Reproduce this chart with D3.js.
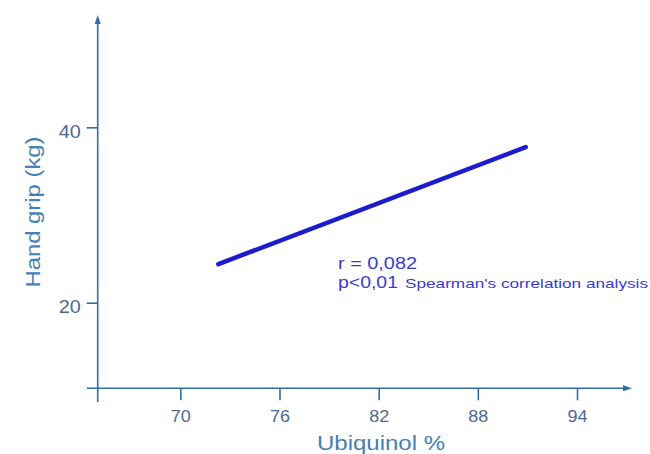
<!DOCTYPE html>
<html><head><meta charset="utf-8">
<script src="https://cdn.jsdelivr.net/npm/d3@7"></script>
<style>body{margin:0;background:#fff}svg{display:block}text{font-family:"Liberation Sans",Arial,sans-serif}</style>
</head><body><svg id="c" width="650" height="454"></svg>
<script>
const xTicks = [70, 76, 82, 88, 94];
const yTicks = [20, 40];
const lineX = [72.3, 90.9];
const lineY = [24.4, 37.75];
const statLines = ["r = 0,082", "p<0,01", "Spearman's correlation analysis"];
const xTitle = "Ubiquinol %";
const yTitle = "Hand grip (kg)";

const svg = d3.select("#c");
const x = d3.scaleLinear().domain([65, 94]).range([97.7, 577]);
const y = d3.scaleLinear().domain([20, 40]).range([302.7, 127.3]);
const axisCol = "#2f6ea6", tickTxt = "#4d6a90", titleCol = "#4580b6", lineCol = "#1c1ccc", txtCol = "#3a3ad0";

const x0 = x(65), y0 = y(10.24);
// axis lines
svg.append("line").attr("x1", 87).attr("x2", 627).attr("y1", y0).attr("y2", y0).attr("stroke", axisCol).attr("stroke-width", 1.6);
svg.append("line").attr("x1", x0).attr("x2", x0).attr("y1", 402).attr("y2", 20).attr("stroke", axisCol).attr("stroke-width", 1.6);
svg.append("path").attr("d", `M${x0-3},${24} L${x0},${15} L${x0+3},${24} Z`).attr("fill", axisCol);
svg.append("path").attr("d", `M${623},${y0-3} L${632},${y0} L${623},${y0+3} Z`).attr("fill", axisCol);

// x axis ticks
const xa = svg.append("g").attr("transform", `translate(0,${y0})`)
  .call(d3.axisBottom(x).tickValues(xTicks).tickSize(12).tickPadding(10));
xa.select(".domain").remove();
xa.selectAll(".tick line").attr("stroke", axisCol).attr("stroke-width", 1.6);
xa.selectAll(".tick text").attr("fill", tickTxt).attr("font-size", 17).attr("textLength", 20).attr("lengthAdjust", "spacingAndGlyphs")
  .attr("font-family", "Liberation Sans, Arial, sans-serif");

// y axis ticks
const ya = svg.append("g").attr("transform", `translate(${x0},0)`)
  .call(d3.axisLeft(y).tickValues(yTicks).tickSize(11).tickPadding(6));
ya.select(".domain").remove();
ya.selectAll(".tick line").attr("stroke", axisCol).attr("stroke-width", 1.6);
ya.selectAll(".tick text").attr("fill", tickTxt).attr("font-size", 18).attr("dy", "0.55em")
  .attr("textLength", 22).attr("lengthAdjust", "spacingAndGlyphs")
  .attr("font-family", "Liberation Sans, Arial, sans-serif");

// titles
svg.append("text").attr("x", 381).attr("y", 450).attr("text-anchor", "middle")
  .attr("fill", titleCol).attr("font-size", 21).attr("textLength", 128).attr("lengthAdjust", "spacingAndGlyphs").text(xTitle);
svg.append("text").attr("transform", "translate(40,212) rotate(-90)").attr("text-anchor", "middle")
  .attr("fill", titleCol).attr("font-size", 20).attr("textLength", 151).attr("lengthAdjust", "spacingAndGlyphs").text(yTitle);

// regression line
const pts = lineX.map((v, i) => [v, lineY[i]]);
svg.append("path").datum(pts)
  .attr("d", d3.line().x(d => x(d[0])).y(d => y(d[1])))
  .attr("stroke", lineCol).attr("stroke-width", 4.5).attr("stroke-linecap", "round").attr("fill", "none");

// stats text
svg.append("text").attr("x", 338).attr("y", 269).attr("fill", txtCol).attr("font-size", 16)
  .attr("textLength", 79).attr("lengthAdjust", "spacingAndGlyphs").text(statLines[0]);
svg.append("text").attr("x", 338).attr("y", 288).attr("fill", txtCol).attr("font-size", 16)
  .attr("textLength", 60).attr("lengthAdjust", "spacingAndGlyphs").text(statLines[1]);
svg.append("text").attr("x", 405).attr("y", 288).attr("fill", txtCol).attr("font-size", 13.5)
  .attr("textLength", 243).attr("lengthAdjust", "spacingAndGlyphs").text(statLines[2]);
</script></body></html>
